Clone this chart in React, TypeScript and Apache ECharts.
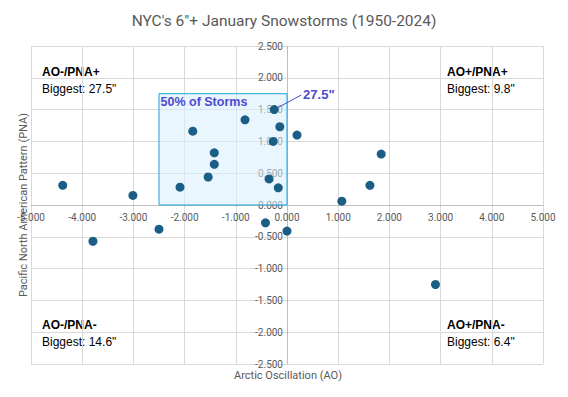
import React, { useEffect, useRef } from "react";
import * as echarts from "echarts";

const aoValues = [-4.38, -3.79, -3.01, -2.5, -2.09, -1.84, -1.54, -1.42, -1.42, -0.82, -0.42, -0.35, -0.27, -0.25, -0.17, -0.14, 0.0, 0.195, 1.07, 1.62, 1.84, 2.9];
const pnaValues = [0.31, -0.57, 0.15, -0.38, 0.28, 1.16, 0.44, 0.82, 0.64, 1.34, -0.28, 0.41, 1.0, 1.5, 0.27, 1.23, -0.41, 1.1, 0.06, 0.31, 0.8, -1.25];
const boxCorners = [[-2.5, 1.75], [0, 0]];
const biggestPoint = [-0.25, 1.5];
const biggestLabelPoint = [0.28, 1.73];
const biggestLabel = '27.5"';
const quadrants = [
  { title: "AO-/PNA+", sub: 'Biggest: 27.5"' },
  { title: "AO+/PNA+", sub: 'Biggest: 9.8"' },
  { title: "AO-/PNA-", sub: 'Biggest: 14.6"' },
  { title: "AO+/PNA-", sub: 'Biggest: 6.4"' },
];
const quadPos = [
  [42, 66],
  [447, 66],
  [42, 319],
  [447, 319],
];

const GRID = { left: 31, right: 25, top: 46, bottom: 33 };
const W = 568;
const H = 397;

export default function App() {
  const ref = useRef<HTMLDivElement>(null);
  useEffect(() => {
    const chart = echarts.init(ref.current!, null, { renderer: "svg" });
    const gray = "#595959";
    const data = aoValues.map((x, i) => [x, pnaValues[i]]);
    const gw = W - GRID.left - GRID.right;
    const gh = H - GRID.top - GRID.bottom;
    const graphics: any[] = [];
    quadrants.forEach((q, i) => {
      graphics.push({
        type: "text",
        left: quadPos[i][0],
        top: quadPos[i][1],
        style: { text: q.title, font: "bold 12px 'Liberation Sans', Arial", fill: "#000" },
      });
      graphics.push({
        type: "text",
        left: quadPos[i][0],
        top: quadPos[i][1] + 17,
        style: { text: q.sub, font: "12px 'Liberation Sans', Arial", fill: "#000" },
      });
    });
    graphics.push({
      type: "text",
      x: 288,
      y: 375,
      style: {
        text: "Arctic Oscillation (AO)",
        font: "11px Roboto",
        fill: gray,
        align: "center",
        verticalAlign: "middle",
      },
    });
    graphics.push({
      type: "text",
      x: 23,
      y: 205,
      rotation: Math.PI / 2,
      style: {
        text: "Pacific North American Pattern (PNA)",
        font: "11px Roboto",
        fill: gray,
        align: "center",
        verticalAlign: "middle",
      },
    });
    chart.setOption({
      animation: false,
      title: {
        text: "NYC's 6\"+ January Snowstorms (1950-2024)",
        left: "center",
        top: 8,
        textStyle: { fontFamily: "Roboto", fontSize: 15.5, fontWeight: "normal", color: gray },
      },
      grid: GRID,
      xAxis: {
        type: "value",
        min: -5,
        max: 5,
        interval: 1,
        offset: -gh / 2,
        axisLine: { onZero: false, lineStyle: { color: "#bfbfbf" } },
        axisTick: { show: false },
        axisLabel: {
          formatter: (v: number) => v.toFixed(3),
          color: gray,
          fontFamily: "Roboto",
          fontSize: 10,
          margin: 7,
          showMinLabel: true,
          showMaxLabel: true,
        },
        splitLine: { show: true, lineStyle: { color: "#d9d9d9" } },
      },
      yAxis: {
        type: "value",
        min: -2.5,
        max: 2.5,
        interval: 0.5,
        offset: -gw / 2,
        axisLine: { onZero: false, lineStyle: { color: "#bfbfbf" } },
        axisTick: { show: false },
        axisLabel: {
          formatter: (v: number) => v.toFixed(3),
          color: gray,
          fontFamily: "Roboto",
          fontSize: 10,
          margin: 4,
        },
        splitLine: { show: true, lineStyle: { color: "#d9d9d9" } },
      },
      series: [
        {
          type: "scatter",
          data,
          symbolSize: 9,
          itemStyle: { color: "#1b5e85", opacity: 1 },
          z: 5,
          markArea: {
            silent: true,
            itemStyle: { color: "rgba(215,238,252,0.55)", borderColor: "#22a2e2", borderWidth: 1, opacity: 1 },
            label: {
              show: true,
              position: "insideTopLeft",
              distance: 2,
              color: "#4b4bcf",
              fontFamily: "'Liberation Sans', Arial",
              fontWeight: "bold",
              fontSize: 12.5,
            },
            data: [[
              { name: "50% of Storms", coord: boxCorners[0] },
              { coord: boxCorners[1] },
            ]],
          },
          markLine: {
            silent: true,
            symbol: "none",
            lineStyle: { color: "#4b4bcf", width: 1, type: "solid" },
            label: {
              show: true,
              position: "end",
              distance: 2,
              formatter: biggestLabel,
              color: "#4b4bcf",
              fontFamily: "'Liberation Sans', Arial",
              fontWeight: "bold",
              fontSize: 13,
            },
            data: [[{ coord: biggestPoint }, { coord: biggestLabelPoint }]],
          },
        },
      ],
      graphic: graphics,
    });
    return () => chart.dispose();
  }, []);
  return (
    <div
      ref={ref}
      style={{ position: "absolute", left: 0, top: 0, width: W, height: H }}
    />
  );
}
